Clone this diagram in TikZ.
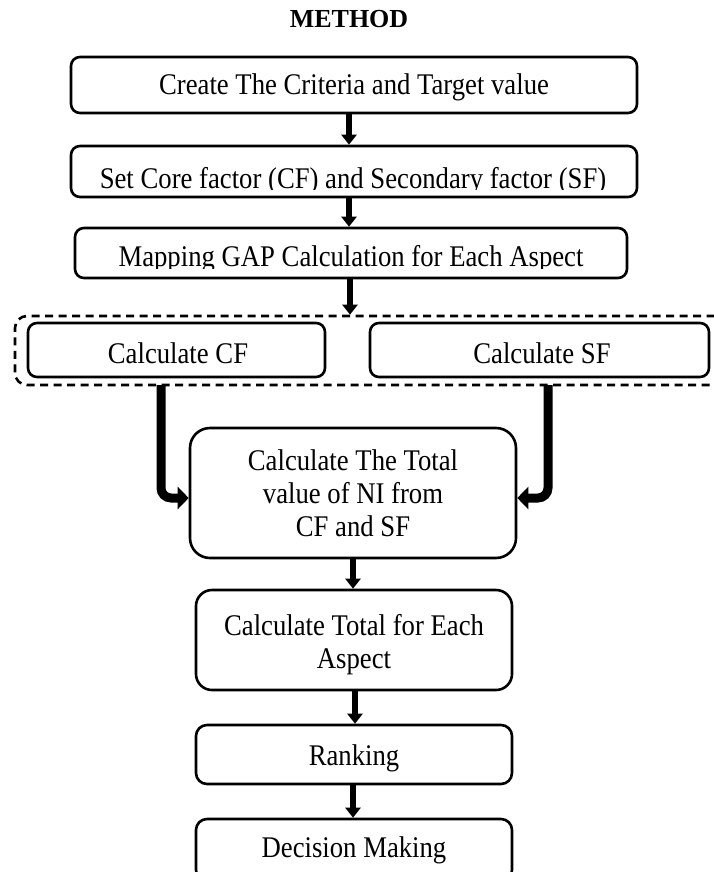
\documentclass[tikz,border=0pt]{standalone}
\usepackage{fontspec}
\setmainfont{Liberation Serif}[FakeStretch=0.89]
\newfontfamily\titlefont{Liberation Serif}
\usetikzlibrary{arrows.meta}
\tikzset{
  box/.style={draw, line width=2.6pt, rounded corners=9pt, inner sep=0pt, align=center,
    font=\fontsize{30}{33}\selectfont},
  lbl/.style={inner sep=0pt, font=\fontsize{30}{33}\selectfont},
  arr/.style={line width=5.5pt, -{Triangle[width=15pt,length=10pt]}},
  fat/.style={line width=9pt, rounded corners=10pt, -{Triangle[width=22pt,length=11pt]}},
  dashbox/.style={draw, line width=2.6pt, dash pattern=on 8pt off 5.5pt, rounded corners=12pt, inner sep=0pt}
}
\begin{document}
\begin{tikzpicture}[x=1pt,y=-1pt]
\clip (0,0) rectangle (714,872);
\fill[white] (0,0) rectangle (714,872);
\node[font=\titlefont\fontsize{26}{29}\selectfont\bfseries] (title) at (349,19) {METHOD};

\node[box, minimum width=566pt, minimum height=56pt] (b1) at (354,85) {};
\node[lbl, anchor=base] (t1) at (354,95) {Create The Criteria and Target value};
\node[box, minimum width=566pt, minimum height=51pt] (b2) at (354,171.5) {};
\begin{scope}
\clip (71,146) rectangle (637,189.5);
\node[lbl, anchor=base] (t2) at (353,188) {Set Core factor (CF) and Secondary factor (SF)};
\end{scope}
\node[box, minimum width=552pt, minimum height=50pt] (b3) at (351,253) {};
\begin{scope}
\clip (75,228) rectangle (627,268);
\node[lbl, anchor=base] (t3) at (351,266.5) {Mapping GAP Calculation for Each Aspect};
\end{scope}

\node[dashbox, minimum width=725pt, minimum height=69pt] (dash) at (377.5,350.5) {};
\node[box, minimum width=297pt, minimum height=54pt] (cf) at (176.5,350) {};
\node[lbl, anchor=base] (tcf) at (178,363) {Calculate CF};
\node[box, minimum width=339pt, minimum height=54pt] (sf) at (539.5,350) {};
\node[lbl, anchor=base] (tsf) at (542,363) {Calculate SF};

\node[box, rounded corners=20pt, minimum width=326pt, minimum height=130pt] (ni) at (353,493)
  {Calculate The Total\\value of NI from\\CF and SF};
\node[box, rounded corners=16pt, minimum width=316pt, minimum height=100pt] (ct) at (354,640) {};
\node[lbl, align=center] (tct) at (354,644.5) {Calculate Total for Each\\Aspect};
\node[box, rounded corners=11pt, minimum width=316pt, minimum height=59pt] (rk) at (354,754.5) {};
\node[lbl, anchor=base] (trk) at (354,765) {Ranking};
\node[box, rounded corners=11pt, minimum width=316pt, minimum height=62pt] (dm) at (354,850) {};
\node[lbl, anchor=base] (tdm) at (354,857) {Decision Making};

\coordinate (cfo) at (161,385);
\coordinate (sfo) at (548,385);

\draw[arr] (b1.south -| 349,0) -- (b2.north -| 349,0);
\draw[arr] (b2.south -| 349,0) -- (b3.north -| 349,0);
\draw[arr] (b3.south -| 350,0) -- (dash.north -| 350,0);
\draw[fat] (cfo) |- ([yshift=-5pt]ni.west);
\draw[fat] (sfo) |- ([yshift=-5pt]ni.east);
\draw[arr] (ni.south -| 353,0) -- (ct.north -| 353,0);
\draw[arr] (ct.south -| 355,0) -- (rk.north -| 355,0);
\draw[arr] (rk.south -| 353,0) -- (dm.north -| 353,0);
\end{tikzpicture}
\end{document}
